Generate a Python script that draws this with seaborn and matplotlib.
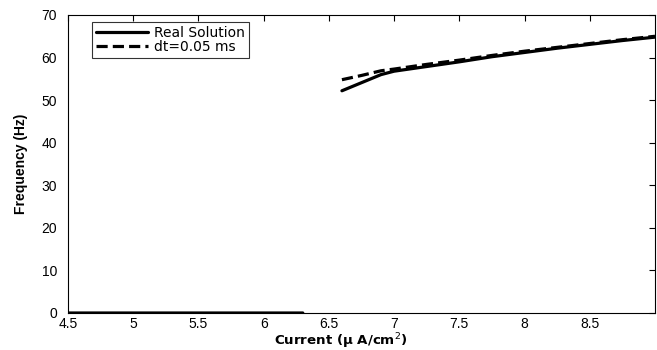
import numpy as np
import pandas as pd
import matplotlib
matplotlib.use("Agg")
import matplotlib.pyplot as plt
import seaborn as sns

# Data
real_x = [4.5, 6.3, np.nan, 6.6, 6.9, 7.0, 7.25, 7.5, 7.75, 8.0, 8.25, 8.5, 8.75, 9.0]
real_y = [0.0, 0.0, np.nan, 52.2, 56.0, 56.8, 57.9, 59.0, 60.2, 61.2, 62.2, 63.1, 64.0, 64.8]
dt_x = [6.6, 6.75, 6.9, 7.0, 7.25, 7.5, 7.75, 8.0, 8.25, 8.5, 8.75, 9.0]
dt_y = [54.8, 55.8, 56.9, 57.3, 58.4, 59.4, 60.5, 61.5, 62.4, 63.3, 64.2, 65.0]
xticks = [4.5, 5, 5.5, 6, 6.5, 7, 7.5, 8, 8.5]
xticklabels = ["4.5", "5", "5.5", "6", "6.5", "7", "7.5", "8", "8.5"]
yticks = [0, 10, 20, 30, 40, 50, 60, 70]

sns.set_theme(style="white")
plt.rcParams['font.family'] = ['Liberation Sans', 'DejaVu Sans']
plt.rcParams.update({"text.color": "black", "axes.labelcolor": "black",
                     "xtick.color": "black", "ytick.color": "black"})

W, H = 657, 350
fig = plt.figure(figsize=(W / 100, H / 100), dpi=100)
ax = fig.add_axes([68 / W, 1 - 313 / H, (655 - 68) / W, (313 - 15) / H])

real = pd.DataFrame({"x": real_x, "y": real_y})
dt = pd.DataFrame({"x": dt_x, "y": dt_y})

ax.plot(real["x"], real["y"], color="black", lw=2.3, label="Real Solution")
sns.lineplot(data=dt, x="x", y="y", ax=ax, color="black", lw=2.3,
             linestyle=(0, (3.5, 1.6)), label="dt=0.05 ms", sort=False)

ax.set_xlim(4.5, 9.0)
ax.set_ylim(0, 70)
ax.set_xticks(xticks)
ax.set_xticklabels(xticklabels)
ax.set_yticks(yticks)
ax.tick_params(direction="in", length=4, width=0.8, color="black",
               labelsize=10, top=True, right=True)
ax.tick_params(axis="y", pad=8)
ax.tick_params(axis="x", pad=3)
for s in ax.spines.values():
    s.set_color("black")
    s.set_linewidth(0.8)
ax.set_xlabel("Current (\u03bc A/cm$^2$)", fontsize=9.6, fontweight="bold",
              family=["DejaVu Sans"])
ax.xaxis.set_label_coords((341 - 68) / (655 - 68), -(341 - 313) / (313 - 15))
ax.xaxis.label.set_va("center")
ax.set_ylabel("Frequency (Hz)", fontsize=10, fontweight="bold")
ax.yaxis.set_label_coords(-(68 - 21) / (655 - 68), 0.5)
ax.yaxis.label.set_va("center")

leg = ax.legend(loc="upper left", bbox_to_anchor=(24 / 587, 1 - 7 / 298), frameon=True,
                fancybox=False, edgecolor="black",
                prop={"family": "DejaVu Sans", "size": 10},
                handlelength=3.7, borderpad=0.3, labelspacing=0.0,
                handletextpad=0.45, borderaxespad=0)
leg.get_frame().set_linewidth(0.8)

fig.savefig("out.png", dpi=100)
